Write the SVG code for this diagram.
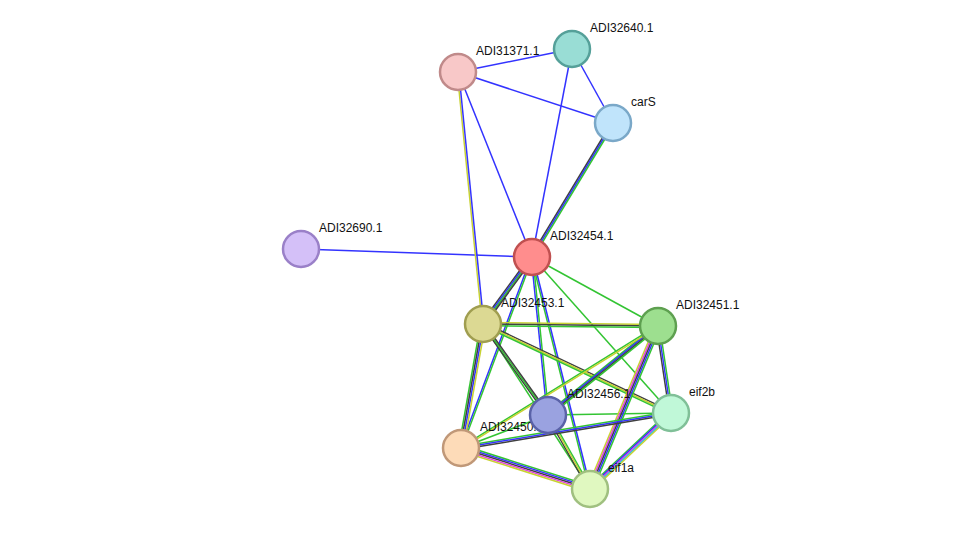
<svg xmlns="http://www.w3.org/2000/svg" xmlns:xlink="http://www.w3.org/1999/xlink" width="976" height="535" viewBox="0 0 976 535">
<style>
line,use{stroke-width:1.5;fill:none}
.b{stroke:#3333ff}.g{stroke:#33c433}.k{stroke:#404040}.y{stroke:#c8d232}.m{stroke:#e040e0}.c{stroke:#30c0e8}
text{font-family:"Liberation Sans",Arial,sans-serif;font-size:12px;fill:#111}
circle{stroke-width:2.5}
</style>
<defs>
<line id="e6" x1="458" y1="72" x2="483" y2="324"/>
<line id="e7" x1="613" y1="123" x2="532" y2="257"/>
<line id="e9" x1="532" y1="257" x2="483" y2="324"/>
<line id="e12" x1="532" y1="257" x2="548" y2="415"/>
<line id="e13" x1="532" y1="257" x2="590" y2="489"/>
<line id="e14" x1="532" y1="257" x2="461" y2="448"/>
<line id="e15" x1="483" y1="324" x2="658" y2="326"/>
<line id="e16" x1="483" y1="324" x2="548" y2="415"/>
<line id="e17" x1="483" y1="324" x2="671" y2="413"/>
<line id="e18" x1="483" y1="324" x2="461" y2="448"/>
<line id="e20" x1="658" y1="326" x2="548" y2="415"/>
<line id="e21" x1="658" y1="326" x2="461" y2="448"/>
<line id="e22" x1="658" y1="326" x2="671" y2="413"/>
<line id="e23" x1="658" y1="326" x2="590" y2="489"/>
<line id="e25" x1="548" y1="415" x2="590" y2="489"/>
<line id="e27" x1="461" y1="448" x2="671" y2="413"/>
<line id="e28" x1="461" y1="448" x2="590" y2="489"/>
<line id="e29" x1="671" y1="413" x2="590" y2="489"/>
</defs>
<g id="edges">
<line class="b" x1="458" y1="72" x2="572" y2="49"/>
<line class="b" x1="458" y1="72" x2="613" y2="123"/>
<line class="b" x1="572" y1="49" x2="613" y2="123"/>
<line class="b" x1="572" y1="49" x2="532" y2="257"/>
<line class="b" x1="458" y1="72" x2="532" y2="257"/>
<line class="b" x1="301" y1="249" x2="532" y2="257"/>
<line class="g" x1="532" y1="257" x2="658" y2="326"/>
<line class="g" x1="532" y1="257" x2="671" y2="413"/>
<line class="g" x1="483" y1="324" x2="590" y2="489"/>
<line class="g" x1="548" y1="415" x2="671" y2="413"/>
<line class="g" x1="548" y1="415" x2="461" y2="448"/>
<use href="#e6" class="y" x="-0.8"/><use href="#e6" class="b" x="0.8"/>
<use href="#e7" class="k" x="-1.6"/><use href="#e7" class="b"/><use href="#e7" class="g" x="1.6"/>
<use href="#e9" class="k" x="-2.4"/><use href="#e9" class="b" x="-0.8"/><use href="#e9" class="g" x="0.8"/><use href="#e9" class="k" x="2.4"/>
<use href="#e12" class="b" x="-0.8"/><use href="#e12" class="g" x="0.8"/>
<use href="#e13" class="g" x="-0.8"/><use href="#e13" class="b" x="0.8"/>
<use href="#e14" class="b" x="-0.8"/><use href="#e14" class="g" x="0.8"/>
<use href="#e15" class="y" y="-1.6"/><use href="#e15" class="k"/><use href="#e15" class="g" y="1.6"/>
<use href="#e16" class="k" x="-1.6"/><use href="#e16" class="g"/><use href="#e16" class="k" x="1.6"/>
<use href="#e17" class="k" y="-1.6"/><use href="#e17" class="y"/><use href="#e17" class="g" y="1.6"/>
<use href="#e18" class="g" x="-2.4"/><use href="#e18" class="k" x="-0.8"/><use href="#e18" class="b" x="0.8"/><use href="#e18" class="y" x="2.4"/>
<use href="#e20" class="g" y="-2.4"/><use href="#e20" class="b" y="-0.8"/><use href="#e20" class="k" y="0.8"/><use href="#e20" class="g" y="2.4"/>
<use href="#e21" class="g" y="-0.8"/><use href="#e21" class="y" y="0.8"/>
<use href="#e22" class="k" x="-1.6"/><use href="#e22" class="b"/><use href="#e22" class="g" x="1.6"/>
<use href="#e23" class="y" x="-3.2"/><use href="#e23" class="m" x="-1.6"/><use href="#e23" class="k"/><use href="#e23" class="b" x="1.6"/><use href="#e23" class="g" x="3.2"/>
<use href="#e25" class="k" x="-1.6"/><use href="#e25" class="y"/><use href="#e25" class="g" x="1.6"/>
<use href="#e27" class="g" y="-1.6"/><use href="#e27" class="b"/><use href="#e27" class="k" y="1.6"/>
<use href="#e28" class="g" y="-3.2"/><use href="#e28" class="b" y="-1.6"/><use href="#e28" class="k"/><use href="#e28" class="m" y="1.6"/><use href="#e28" class="y" y="3.2"/>
<use href="#e29" class="g" y="-3.2"/><use href="#e29" class="b" y="-1.6"/><use href="#e29" class="m"/><use href="#e29" class="c" y="1.6"/><use href="#e29" class="y" y="3.2"/>
</g>
<g id="labels">
<text x="476" y="55">ADI31371.1</text>
<text x="590" y="32">ADI32640.1</text>
<text x="631" y="106">carS</text>
<text x="319" y="232">ADI32690.1</text>
<text x="550" y="240">ADI32454.1</text>
<text x="501" y="307">ADI32453.1</text>
<text x="676" y="309">ADI32451.1</text>
<text x="567" y="398">ADI32456.1</text>
<text x="689" y="396">eif2b</text>
<text x="480" y="431">ADI32450.1</text>
<text x="608" y="472">eif1a</text>
</g>
<g id="n-ADI31371"><circle cx="458" cy="72" r="18" fill="#f8c8c8" stroke="#c08a8a"/></g>
<g id="n-ADI32640"><circle cx="572" cy="49" r="18" fill="#99ddd5" stroke="#55a099"/></g>
<g id="n-carS"><circle cx="613" cy="123" r="18" fill="#c0e4fb" stroke="#7aa8c8"/></g>
<g id="n-ADI32690"><circle cx="301" cy="249" r="18" fill="#d4c0f8" stroke="#9a80c8"/></g>
<g id="n-ADI32454"><circle cx="532" cy="257" r="18" fill="#ff8d8d" stroke="#c05050"/></g>
<g id="n-ADI32453"><circle cx="483" cy="324" r="18" fill="#dcd993" stroke="#a09e50"/></g>
<g id="n-ADI32451"><circle cx="658" cy="326" r="18" fill="#9ddf8f" stroke="#5ea050"/></g>
<g id="n-eif2b"><circle cx="671" cy="413" r="18" fill="#c0f8d8" stroke="#80c098"/></g>
<g id="n-ADI32450"><circle cx="461" cy="448" r="18" fill="#fddbb8" stroke="#c09878"/></g>
<g id="n-ADI32456"><circle cx="548" cy="415" r="18" fill="#9aa2e0" stroke="#5a62a8"/></g>
<g id="n-eif1a"><circle cx="590" cy="489" r="18" fill="#e0f8c0" stroke="#a0c080"/></g>
</svg>
